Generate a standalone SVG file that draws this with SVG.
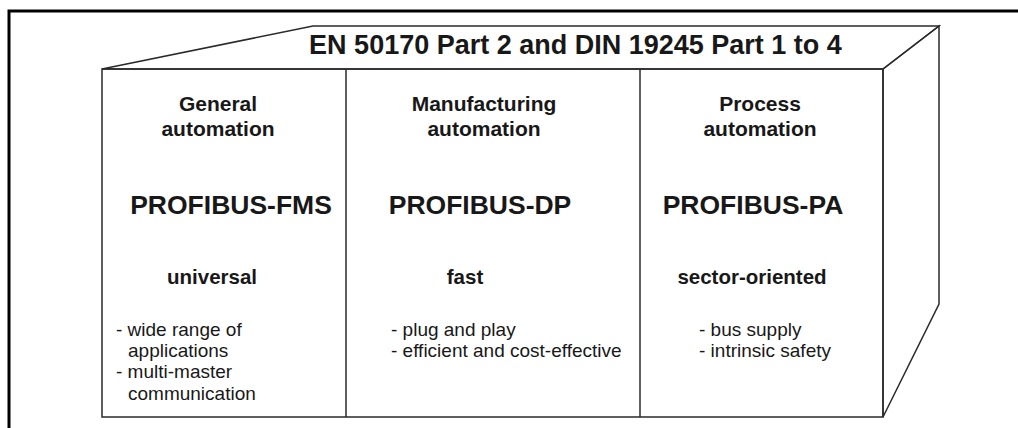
<svg xmlns="http://www.w3.org/2000/svg" width="1018" height="428" viewBox="0 0 1018 428">
<style>
.frame{fill:none;stroke:#000;stroke-width:3}
.edge{fill:none;stroke:#2a2a2a;stroke-width:1.5;stroke-linejoin:miter}
text{font-family:"Liberation Sans",Arial,sans-serif;fill:#181818}
.title{font-size:27px;font-weight:bold;text-anchor:middle}
.head{font-size:21px;font-weight:bold;text-anchor:middle}
.prod{font-size:26.5px;font-weight:bold;text-anchor:middle}
.kind{font-size:20.5px;font-weight:bold;text-anchor:middle}
.item{font-size:19px}
</style>
<rect width="1018" height="428" fill="#fff"/>
<polyline class="frame" points="9,428 9,11 1018,11"/>
<g id="box">
<polygon class="edge" points="102,69 313,26 939,26 883,69"/>
<polygon class="edge" points="883,69 939,26 939,304 883,417"/>
<rect class="edge" x="102" y="69" width="781" height="348"/>
<line class="edge" x1="346" y1="69" x2="346" y2="417"/>
<line class="edge" x1="640" y1="69" x2="640" y2="417"/>
</g>
<g id="title">
<text class="title" x="575.5" y="54">EN 50170 Part 2 and DIN 19245 Part 1 to 4</text>
</g>
<g id="fms">
<text class="head" x="218" y="111">General</text>
<text class="head" x="218" y="136">automation</text>
<text class="prod" x="231" y="214">PROFIBUS-FMS</text>
<text class="kind" x="212" y="284">universal</text>
<text class="item" x="116" y="336">- wide range of</text>
<text class="item" x="128" y="357">applications</text>
<text class="item" x="116" y="378">- multi-master</text>
<text class="item" x="128" y="400">communication</text>
</g>
<g id="dp">
<text class="head" x="484" y="111">Manufacturing</text>
<text class="head" x="484" y="136">automation</text>
<text class="prod" x="480" y="214">PROFIBUS-DP</text>
<text class="kind" x="465" y="284">fast</text>
<text class="item" x="391" y="336">- plug and play</text>
<text class="item" x="391" y="357">- efficient and cost-effective</text>
</g>
<g id="pa">
<text class="head" x="760" y="111">Process</text>
<text class="head" x="760" y="136">automation</text>
<text class="prod" x="753" y="214">PROFIBUS-PA</text>
<text class="kind" x="752" y="284">sector-oriented</text>
<text class="item" x="699" y="336">- bus supply</text>
<text class="item" x="699" y="357">- intrinsic safety</text>
</g>
<g id="connectors"/>
</svg>
